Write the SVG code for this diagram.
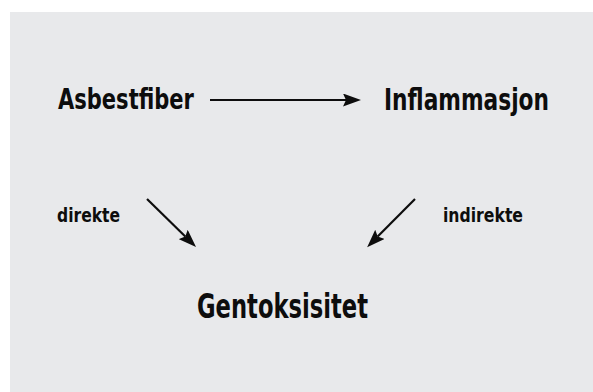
<svg xmlns="http://www.w3.org/2000/svg" width="593" height="392" viewBox="0 0 593 392">
<style>
.t{font-family:"DejaVu Sans Condensed","DejaVu Sans","Liberation Sans",sans-serif;font-stretch:condensed;font-weight:bold;fill:#0d0d0d}
.c line{stroke:#0d0d0d;stroke-width:2.2}
</style>
<defs>
<marker id="ah" markerUnits="userSpaceOnUse" markerWidth="18" markerHeight="13" refX="3" refY="6.5" orient="auto" viewBox="0 0 18 13">
<path d="M0,0 L18,6.5 L0,13 L3,6.5 z" fill="#0d0d0d"/>
</marker>
</defs>
<rect width="593" height="392" fill="#ffffff"/>
<rect x="10" y="12" width="583" height="380" fill="#e8e9eb"/>
<g class="c" id="connectors">
<line x1="210" y1="100" x2="346" y2="100" marker-end="url(#ah)"/>
<line x1="147" y1="199" x2="185.3" y2="236.5" marker-end="url(#ah)"/>
<line x1="415" y1="199" x2="377.7" y2="236.5" marker-end="url(#ah)"/>
</g>
<g id="asbestfiber"><text class="t" x="58" y="109" font-size="29" textLength="136" lengthAdjust="spacingAndGlyphs">Asbestfiber</text></g>
<g id="inflammasjon"><text class="t" x="384" y="110" font-size="30" textLength="165" lengthAdjust="spacingAndGlyphs">Inflammasjon</text></g>
<g id="gentoksisitet"><text class="t" x="197" y="318" font-size="34" textLength="171" lengthAdjust="spacingAndGlyphs">Gentoksisitet</text></g>
<g id="label-direkte"><text class="t" x="57" y="222" font-size="20" textLength="63" lengthAdjust="spacingAndGlyphs">direkte</text></g>
<g id="label-indirekte"><text class="t" x="443" y="222" font-size="20" textLength="80" lengthAdjust="spacingAndGlyphs">indirekte</text></g>
</svg>
